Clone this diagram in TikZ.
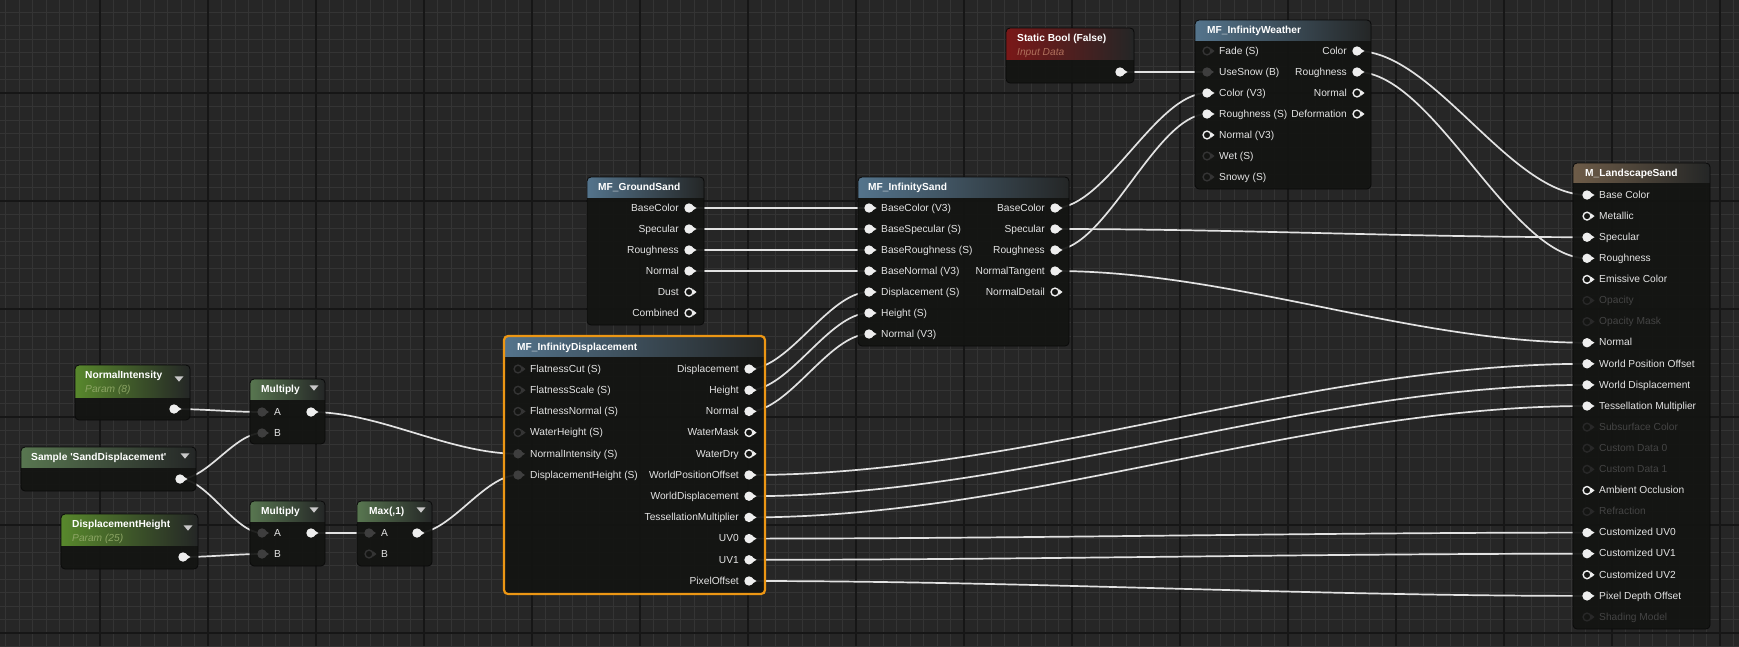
\documentclass[tikz,border=0pt]{standalone}
\usepackage{fontspec}
\newfontfamily\uefont{Liberation Sans}
\usetikzlibrary{calc}
\pgfdeclarelayer{bg}
\pgfdeclarelayer{wires}
\pgfsetlayers{bg,wires,main}
\definecolor{bgc}{RGB}{38,38,38}
\definecolor{gridmin}{RGB}{52,52,52}
\definecolor{gridmaj}{RGB}{22,22,22}
\definecolor{bodyc}{RGB}{19,20,18}
\definecolor{edgec}{RGB}{10,10,10}
\definecolor{hblue}{RGB}{84,116,140}
\definecolor{hgreen}{RGB}{88,136,44}
\definecolor{hop}{RGB}{88,118,80}
\definecolor{hred}{RGB}{122,24,24}
\definecolor{hbrown}{RGB}{110,92,72}
\definecolor{hend}{RGB}{36,38,38}
\definecolor{pinc}{RGB}{238,238,238}
\definecolor{pingray}{RGB}{62,62,62}
\definecolor{pindark}{RGB}{52,52,52}
\definecolor{pinfade}{RGB}{40,40,40}
\definecolor{txt}{RGB}{228,228,228}
\definecolor{txtfade}{RGB}{68,68,68}
\definecolor{wirec}{RGB}{226,226,226}
\definecolor{selc}{RGB}{236,150,20}
\definecolor{subgreen}{RGB}{140,165,100}
\definecolor{subred}{RGB}{175,112,92}
\definecolor{ddc}{RGB}{200,200,200}
\tikzset{
  body/.style={fill=bodyc, fill opacity=0.93, draw=none, inner sep=0pt, outer sep=0pt, rectangle, rounded corners=4pt},
  nodeedge/.style={draw=edgec, line width=0.8pt},
  seledge/.style={draw=selc, line width=2.2pt},
  gridminor/.style={draw=gridmin, line width=0.9pt},
  gridmajor/.style={draw=gridmaj, line width=1.4pt},
  lbl/.style={font=\uefont\fontsize{10.2}{12}\selectfont, text=txt, inner sep=0pt, text height=8pt, text depth=1.5pt},
  lblf/.style={lbl, text=txtfade},
  title/.style={font=\uefont\bfseries\fontsize{10.2}{12}\selectfont, text=white, inner sep=0pt, anchor=west, text height=8pt, text depth=1.5pt},
  sub/.style={font=\uefont\itshape\fontsize{10.2}{12}\selectfont, inner sep=0pt, anchor=west, text height=8pt, text depth=1.5pt},
  wire/.style={draw=wirec, line width=1.7pt},
  bez/.style={to path={let \p1=(\tikztostart), \p2=(\tikztotarget), \n1={(\x2-\x1)/3} in .. controls ([xshift=\n1]\tikztostart) and ([xshift=-\n1]\tikztotarget) .. (\tikztotarget)}},
  pinW/.pic={\fill[pinc] (0,0) circle[radius=4.7]; \fill[pinc] (2,-3.4) -- (7.5,0) -- (2,3.4) -- cycle;},
  pinO/.pic={\draw[pinc, line width=1.4pt] (0,0) circle[radius=3.9]; \fill[pinc] (4.2,-2.6) -- (7.5,0) -- (4.2,2.6) -- cycle;},
  pinG/.pic={\fill[pingray] (0,0) circle[radius=4.7]; \fill[pingray] (2,-3.2) -- (7,0) -- (2,3.2) -- cycle;},
  pinD/.pic={\draw[pindark, line width=1.4pt] (0,0) circle[radius=3.9]; \fill[pindark] (4.2,-2.6) -- (7.5,0) -- (4.2,2.6) -- cycle;},
  pinF/.pic={\draw[pinfade, line width=1.4pt] (0,0) circle[radius=3.9]; \fill[pinfade] (4.2,-2.6) -- (7.5,0) -- (4.2,2.6) -- cycle;}
}
% #1 edge style, #2 name, #3 x, #4 y, #5 width, #6 height, #7 header height, #8 header colour
\newcommand\uebox[8][nodeedge]{%
  \node[body, minimum width=#5, minimum height=#6, anchor=north west] (#2) at (#3,#4) {};
  \begin{scope}
    \clip[rounded corners=4pt] (#2.north west) rectangle (#2.south east);
    \shade[left color=#8, right color=hend] (#2.north west) rectangle ([yshift=-#7 pt]#2.north east);
  \end{scope}
  \draw[#1, rounded corners=4pt] (#2.north west) rectangle (#2.south east);}
\newcommand\ipin[5]{\coordinate (#1) at ({#2},{#3}); \pic at (#1) {#4};
  \node[lbl, anchor=west] (#1-t) at ([xshift=12pt]#1) {#5};}
\newcommand\ipinf[4]{\coordinate (#1) at ({#2},{#3}); \pic at (#1) {pinF};
  \node[lblf, anchor=west] (#1-t) at ([xshift=12pt]#1) {#4};}
\newcommand\opin[5]{\coordinate (#1) at ({#2},{#3}); \pic at (#1) {#4};
  \node[lbl, anchor=east] (#1-t) at ([xshift=-10pt]#1) {#5};}
\newcommand\bpin[4]{\coordinate (#1) at ({#2},{#3}); \pic at (#1) {#4};}
\newcommand\dropdn[2]{\fill[ddc] ({#1-4.5},{#2-2.7}) -- ({#1+4.5},{#2-2.7}) -- (#1,{#2+2.7}) -- cycle;}
\begin{document}
\begin{tikzpicture}[x=1pt,y=-1pt]
\useasboundingbox (0,0) rectangle (1739,646);
\begin{pgfonlayer}{bg}
\fill[bgc] (0,0) rectangle (1739,646);
\foreach \k in {-7,...,121} \draw[gridminor] ({100+13.5*\k},0) -- ({100+13.5*\k},646);
\foreach \k in {-6,...,41} \draw[gridminor] (0,{93+13.5*\k}) -- (1739,{93+13.5*\k});
\foreach \k in {0,...,15} \draw[gridmajor] ({100+108*\k},0) -- ({100+108*\k},646);
\foreach \k in {0,...,5} \draw[gridmajor] (0,{93+108*\k}) -- (1739,{93+108*\k});
\end{pgfonlayer}

% NormalIntensity
\uebox{ni}{75}{365}{115}{55}{32}{hgreen}
\node[title] (ni-h) at (85,375) {NormalIntensity};
\node[sub, text=subgreen] (ni-s) at (85,389) {Param (8)};
\dropdn{179}{379}
\bpin{ni-o}{174}{409}{pinW}

% Multiply 1
\uebox{m1}{250}{379}{75}{65}{20}{hop}
\node[title] (m1-h) at (261,389) {Multiply};
\dropdn{314}{388}
\ipin{m1-a}{262}{412}{pinG}{A}
\ipin{m1-b}{262}{433}{pinG}{B}
\bpin{m1-o}{311}{412}{pinW}

% Sample
\uebox{smp}{21}{447}{175}{44}{20}{hop}
\node[title] (smp-h) at (31,457) {Sample 'SandDisplacement'};
\dropdn{185}{456}
\bpin{smp-o}{180}{479}{pinW}

% DisplacementHeight
\uebox{dh}{61}{514}{137}{55}{31}{hgreen}
\node[title] (dh-h) at (72,524) {DisplacementHeight};
\node[sub, text=subgreen] (dh-s) at (72,538) {Param (25)};
\dropdn{188}{528}
\bpin{dh-o}{183}{557}{pinW}

% Multiply 2
\uebox{m2}{250}{501}{75}{65}{20}{hop}
\node[title] (m2-h) at (261,511) {Multiply};
\dropdn{314}{510}
\ipin{m2-a}{262}{533}{pinG}{A}
\ipin{m2-b}{262}{554}{pinG}{B}
\bpin{m2-o}{311}{533}{pinW}

% Max
\uebox{mx}{357}{501}{75}{65}{20}{hop}
\node[title] (mx-h) at (369,511) {Max(,1)};
\dropdn{421}{510}
\ipin{mx-a}{369}{533}{pinG}{A}
\ipin{mx-b}{369}{554}{pinD}{B}
\bpin{mx-o}{417}{533}{pinW}

% MF_InfinityDisplacement
\uebox[seledge]{disp}{504}{336}{261}{258}{20}{hblue}
\node[title] (disp-h) at (517,347) {MF\_InfinityDisplacement};
\ipin{disp-i1}{518}{369}{pinD}{FlatnessCut (S)}
\ipin{disp-i2}{518}{390.2}{pinD}{FlatnessScale (S)}
\ipin{disp-i3}{518}{411.4}{pinD}{FlatnessNormal (S)}
\ipin{disp-i4}{518}{432.6}{pinD}{WaterHeight (S)}
\ipin{disp-i5}{518}{453.8}{pinG}{NormalIntensity (S)}
\ipin{disp-i6}{518}{475}{pinG}{DisplacementHeight (S)}
\opin{disp-o1}{749}{369}{pinW}{Displacement}
\opin{disp-o2}{749}{390.2}{pinW}{Height}
\opin{disp-o3}{749}{411.4}{pinW}{Normal}
\opin{disp-o4}{749}{432.6}{pinO}{WaterMask}
\opin{disp-o5}{749}{453.8}{pinO}{WaterDry}
\opin{disp-o6}{749}{475}{pinW}{WorldPositionOffset}
\opin{disp-o7}{749}{496.2}{pinW}{WorldDisplacement}
\opin{disp-o8}{749}{517.4}{pinW}{TessellationMultiplier}
\opin{disp-o9}{749}{538.6}{pinW}{UV0}
\opin{disp-o10}{749}{559.8}{pinW}{UV1}
\opin{disp-o11}{749}{581}{pinW}{PixelOffset}

% MF_GroundSand
\uebox{gs}{587}{177}{117}{148}{20}{hblue}
\node[title] (gs-h) at (598,187) {MF\_GroundSand};
\opin{gs-o1}{689}{208}{pinW}{BaseColor}
\opin{gs-o2}{689}{229}{pinW}{Specular}
\opin{gs-o3}{689}{250}{pinW}{Roughness}
\opin{gs-o4}{689}{271}{pinW}{Normal}
\opin{gs-o5}{689}{292}{pinO}{Dust}
\opin{gs-o6}{689}{313}{pinO}{Combined}

% MF_InfinitySand
\uebox{is}{858}{177}{211}{169}{20}{hblue}
\node[title] (is-h) at (868,187) {MF\_InfinitySand};
\ipin{is-i1}{869}{208}{pinW}{BaseColor (V3)}
\ipin{is-i2}{869}{229}{pinW}{BaseSpecular (S)}
\ipin{is-i3}{869}{250}{pinW}{BaseRoughness (S)}
\ipin{is-i4}{869}{271}{pinW}{BaseNormal (V3)}
\ipin{is-i5}{869}{292}{pinW}{Displacement (S)}
\ipin{is-i6}{869}{313}{pinW}{Height (S)}
\ipin{is-i7}{869}{334}{pinW}{Normal (V3)}
\opin{is-o1}{1055}{208}{pinW}{BaseColor}
\opin{is-o2}{1055}{229}{pinW}{Specular}
\opin{is-o3}{1055}{250}{pinW}{Roughness}
\opin{is-o4}{1055}{271}{pinW}{NormalTangent}
\opin{is-o5}{1055}{292}{pinO}{NormalDetail}

% Static Bool
\uebox{sb}{1006}{28}{128}{55}{31}{hred}
\node[title] (sb-h) at (1017,38) {Static Bool (False)};
\node[sub, text=subred] (sb-s) at (1017,52) {Input Data};
\bpin{sb-o}{1120}{72}{pinW}

% MF_InfinityWeather
\uebox{iw}{1195}{20}{176}{169}{20}{hblue}
\node[title] (iw-h) at (1207,30) {MF\_InfinityWeather};
\ipin{iw-i1}{1207}{51}{pinD}{Fade (S)}
\ipin{iw-i2}{1207}{72}{pinG}{UseSnow (B)}
\ipin{iw-i3}{1207}{93}{pinW}{Color (V3)}
\ipin{iw-i4}{1207}{114}{pinW}{Roughness (S)}
\ipin{iw-i5}{1207}{135}{pinO}{Normal (V3)}
\ipin{iw-i6}{1207}{156}{pinD}{Wet (S)}
\ipin{iw-i7}{1207}{177}{pinD}{Snowy (S)}
\opin{iw-o1}{1357}{51}{pinW}{Color}
\opin{iw-o2}{1357}{72}{pinW}{Roughness}
\opin{iw-o3}{1357}{93}{pinO}{Normal}
\opin{iw-o4}{1357}{114}{pinO}{Deformation}

% M_LandscapeSand
\uebox{ls}{1573}{163}{137}{466}{19}{hbrown}
\node[title] (ls-h) at (1585,173) {M\_LandscapeSand};
\ipin{ls-i1}{1587}{195}{pinW}{Base Color}
\ipin{ls-i2}{1587}{216.1}{pinO}{Metallic}
\ipin{ls-i3}{1587}{237.2}{pinW}{Specular}
\ipin{ls-i4}{1587}{258.3}{pinW}{Roughness}
\ipin{ls-i5}{1587}{279.4}{pinO}{Emissive Color}
\ipinf{ls-i6}{1587}{300.5}{Opacity}
\ipinf{ls-i7}{1587}{321.6}{Opacity Mask}
\ipin{ls-i8}{1587}{342.7}{pinW}{Normal}
\ipin{ls-i9}{1587}{363.8}{pinW}{World Position Offset}
\ipin{ls-i10}{1587}{384.9}{pinW}{World Displacement}
\ipin{ls-i11}{1587}{406}{pinW}{Tessellation Multiplier}
\ipinf{ls-i12}{1587}{427.1}{Subsurface Color}
\ipinf{ls-i13}{1587}{448.2}{Custom Data 0}
\ipinf{ls-i14}{1587}{469.3}{Custom Data 1}
\ipin{ls-i15}{1587}{490.4}{pinO}{Ambient Occlusion}
\ipinf{ls-i16}{1587}{511.5}{Refraction}
\ipin{ls-i17}{1587}{532.6}{pinW}{Customized UV0}
\ipin{ls-i18}{1587}{553.7}{pinW}{Customized UV1}
\ipin{ls-i19}{1587}{574.8}{pinO}{Customized UV2}
\ipin{ls-i20}{1587}{595.9}{pinW}{Pixel Depth Offset}
\ipinf{ls-i21}{1587}{617}{Shading Model}

% wires
\begin{pgfonlayer}{wires}
\draw[wire] (ni-o) to[bez] (m1-a);
\draw[wire] (smp-o) to[bez] (m1-b);
\draw[wire] (smp-o) to[bez] (m2-a);
\draw[wire] (dh-o) to[bez] (m2-b);
\draw[wire] (m1-o) to[bez] (disp-i5);
\draw[wire] (m2-o) to[bez] (mx-a);
\draw[wire] (mx-o) to[bez] (disp-i6);
\draw[wire] (disp-o1) to[bez] (is-i5);
\draw[wire] (disp-o2) to[bez] (is-i6);
\draw[wire] (disp-o3) to[bez] (is-i7);
\draw[wire] (gs-o1) to[bez] (is-i1);
\draw[wire] (gs-o2) to[bez] (is-i2);
\draw[wire] (gs-o3) to[bez] (is-i3);
\draw[wire] (gs-o4) to[bez] (is-i4);
\draw[wire] (is-o1) to[bez] (iw-i3);
\draw[wire] (is-o3) to[bez] (iw-i4);
\draw[wire] (is-o2) to[bez] (ls-i3);
\draw[wire] (is-o4) to[bez] (ls-i8);
\draw[wire] (iw-o1) to[bez] (ls-i1);
\draw[wire] (iw-o2) to[bez] (ls-i4);
\draw[wire] (sb-o) to[bez] (iw-i2);
\draw[wire] (disp-o6) to[bez] (ls-i9);
\draw[wire] (disp-o7) to[bez] (ls-i10);
\draw[wire] (disp-o8) to[bez] (ls-i11);
\draw[wire] (disp-o9) to[bez] (ls-i17);
\draw[wire] (disp-o10) to[bez] (ls-i18);
\draw[wire] (disp-o11) to[bez] (ls-i20);
\end{pgfonlayer}
\end{tikzpicture}
\end{document}
